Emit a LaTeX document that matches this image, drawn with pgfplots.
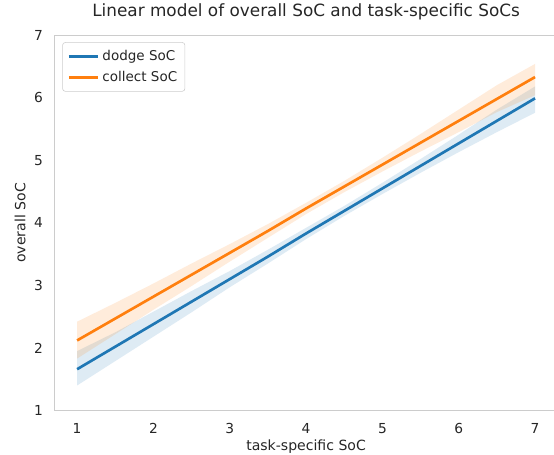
\documentclass[border=0pt]{standalone}
\usepackage{pgfplots}
\pgfplotsset{compat=1.18}
\usepackage{pgfplotstable}
\usepgfplotslibrary{fillbetween}
\usepackage{fontspec}
\setmainfont{DejaVu Sans}
\definecolor{sblue}{HTML}{1F77B4}
\definecolor{sorange}{HTML}{FF7F0E}
\definecolor{txt}{HTML}{262626}
\definecolor{spine}{HTML}{CCCCCC}

\pgfplotstableread{
x    lo    y     hi
1    1.40  1.66  1.95
1.5  1.79  2.02  2.25
2    2.18  2.38  2.58
2.5  2.57  2.74  2.91
3    2.97  3.10  3.23
3.5  3.35  3.46  3.57
4    3.74  3.83  3.92
4.5  4.11  4.19  4.27
5    4.46  4.55  4.64
5.5  4.80  4.91  5.02
6    5.13  5.27  5.41
6.5  5.45  5.63  5.81
7    5.76  5.99  6.18
}\dodge

\pgfplotstableread{
x    lo    y     hi
1    1.83  2.12  2.42
1.5  2.22  2.47  2.72
2    2.61  2.82  3.03
2.5  2.99  3.17  3.35
3    3.38  3.52  3.66
3.5  3.76  3.87  3.98
4    4.14  4.23  4.32
4.5  4.49  4.58  4.67
5    4.82  4.93  5.04
5.5  5.14  5.28  5.42
6    5.45  5.63  5.81
6.5  5.77  5.98  6.20
7    6.04  6.33  6.54
}\collect

\begin{document}
\begin{tikzpicture}
\begin{axis}[
  scale only axis,
  width=358.3pt, height=267pt,
  xmin=0.7, xmax=7.3, ymin=1, ymax=7,
  xtick={1,2,3,4,5,6,7}, ytick={1,2,3,4,5,6,7},
  axis x line*=bottom, axis y line*=left,
  axis line style={draw=none},
  major tick length=0pt,
  tick label style={font=\fontsize{9.8}{11}\selectfont, text=txt},
  /pgf/number format/assume math mode=true,
  xticklabel style={yshift=-5.5pt},
  yticklabel style={xshift=-4.5pt},
  xlabel={task-specific SoC}, ylabel={overall SoC},
  label style={font=\fontsize{10}{12}\selectfont, text=txt},
  xlabel style={at={(axis description cs:0.5,-0.0963)}, anchor=center},
  ylabel style={at={(axis description cs:-0.0678,0.5)}, anchor=center},
  title={Linear model of overall SoC and task-specific SoCs},
  title style={at={(axis description cs:0.5,1.0267)}, anchor=base, font=\fontsize{12}{14}\selectfont, text=txt},
  legend style={at={(axis description cs:0.016,0.9813)}, anchor=north west,
    draw=spine, rounded corners=2pt, fill=white, text=txt,
    font=\fontsize{9.6}{11}\selectfont, row sep=2.2pt, inner sep=3.5pt},
  legend cell align=left,
  legend image code/.code={\draw[#1] (0pt,0pt) -- (21pt,0pt);},
]
\draw[spine, line width=0.8pt] (rel axis cs:0,1) -- (rel axis cs:0,0) -- (rel axis cs:1,0);
\draw[spine, line width=0.8pt] (rel axis cs:0,1) -- (rel axis cs:1,1);
\addplot[name path=bl, draw=none, forget plot] table[x=x, y=lo] {\dodge};
\addplot[name path=bu, draw=none, forget plot] table[x=x, y=hi] {\dodge};
\addplot[fill=sblue, fill opacity=0.15, draw=none, forget plot] fill between[of=bl and bu];
\addplot[name path=cl, draw=none, forget plot] table[x=x, y=lo] {\collect};
\addplot[name path=cu, draw=none, forget plot] table[x=x, y=hi] {\collect};
\addplot[fill=sorange, fill opacity=0.15, draw=none, forget plot] fill between[of=cl and cu];
\addplot[sblue, line width=1.9pt] table[x=x, y=y] {\dodge};
\addlegendentry{dodge SoC}
\addplot[sorange, line width=1.9pt] table[x=x, y=y] {\collect};
\addlegendentry{collect SoC}
\coordinate (O) at (rel axis cs:0,0);
\end{axis}
\pgfresetboundingbox
\path[use as bounding box] ([shift={(-38.56pt,-31.42pt)}]O) rectangle ([shift={(355.5pt,292pt)}]O);
\end{tikzpicture}
\end{document}
